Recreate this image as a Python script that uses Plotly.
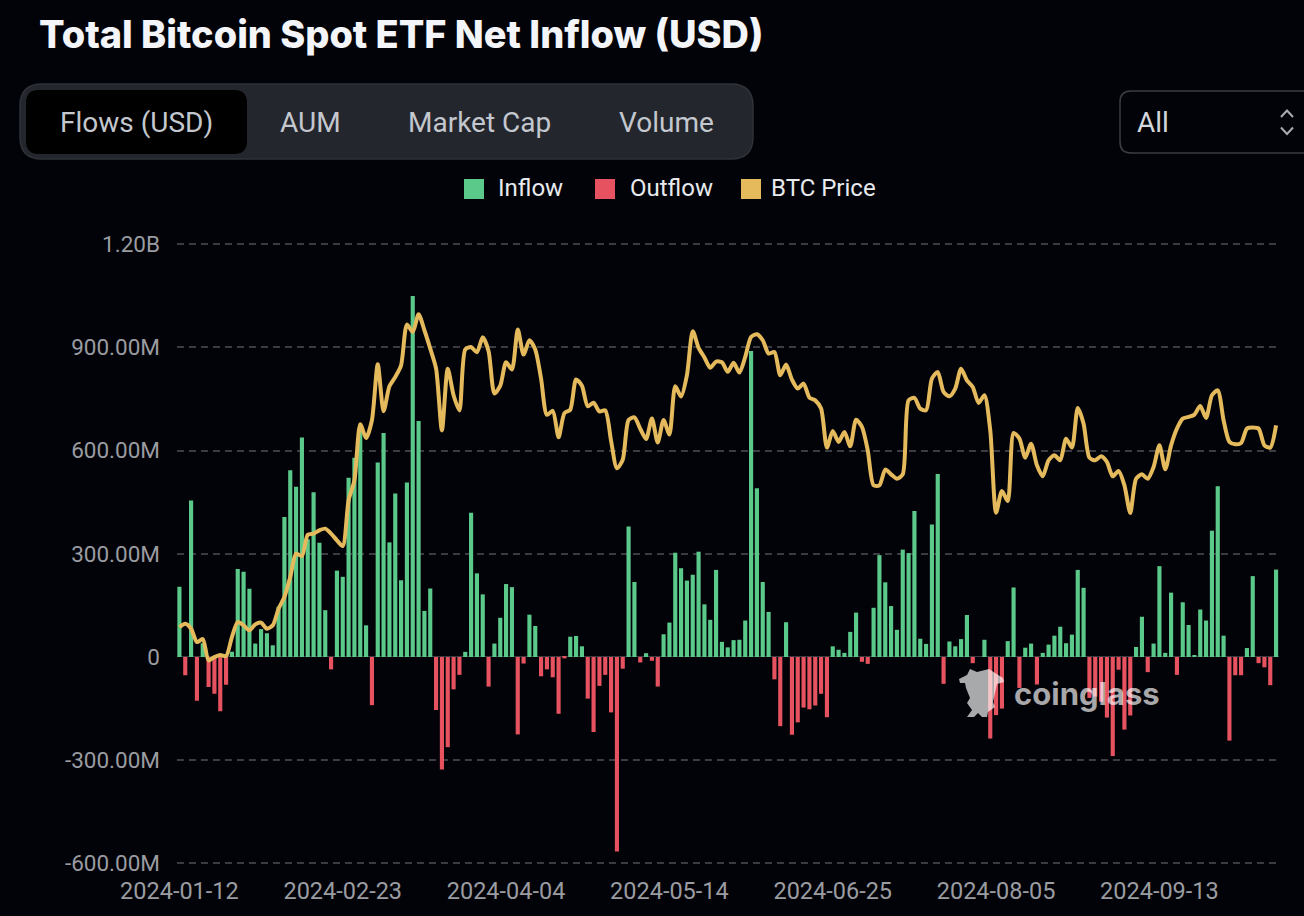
import plotly.graph_objects as go

W, H = 1304, 916

# net flows in millions of USD, one per trading day
net_flow = [
    204, -53, 455, -127, 40, -87, -107, -158, -81, 15,
    256, 248, 198, 39, 81, 69, 34, 146, 407, 543,
    495, 638, 342, 479, 332, 136, -36, 251, 233, 521,
    579, 667, 92, -140, 565, 651, 333, 475, 223, 507,
    1049, 686, 134, 199, -154, -327, -262, -94, -52, 15,
    419, 243, 182, -86, 39, 114, 212, 203, -225, -19,
    123, 90, -56, -36, -59, -165, -4, 59, 61, 31,
    -121, -218, -84, -52, -161, -565, -34, 379, 218, -16,
    11, -11, -86, 66, 100, 303, 258, 222, 239, 306,
    153, 108, 253, 44, 28, 49, 50, 106, 889, 490,
    218, 131, -65, -201, 101, -226, -190, -147, -152, -141,
    -107, -175, 31, 21, 12, 73, 129, -14, -20, 143,
    296, 217, 148, 79, 312, 302, 424, 53, 38, 385,
    532, -78, 45, 31, 52, 122, -18, 0, 50, -237,
    -169, -150, 46, 202, -90, 27, 39, -80, 12, 36,
    62, 88, 40, 65, 253, 201, -119, -115, -130, -176,
    -288, -37, -211, -170, 29, 117, -44, 39, 264, 12,
    187, -52, 159, 93, 4, 138, 106, 367, 496, 62,
    -243, -53, -53, 26, 235, -18, -30, -82, 254,
]

# BTC price in USD, same days
btc_price = [
    42900, 43220, 42740, 41450, 41740, 39670, 39990, 40190, 40090, 41930,
    43380, 43060, 42580, 43160, 43320, 42740, 43060, 44680, 45810, 47750,
    50010, 49780, 51850, 51950, 52270, 52430, 51950, 51300, 50750, 55170,
    57100, 62540, 61200, 62930, 68350, 63800, 66220, 67120, 68250, 72200,
    71490, 73200, 71650, 69870, 67930, 61950, 67930, 65350, 63880, 69790,
    70020, 69520, 70960, 69620, 65520, 66280, 68550, 67850, 71720, 69290,
    70690, 69790, 66950, 63450, 63850, 61280, 63620, 63950, 66880, 66280,
    64280, 64620, 63780, 63880, 60940, 58270, 59110, 62950, 63210, 62110,
    61110, 63110, 60780, 62950, 61550, 66220, 65220, 67290, 71560, 69950,
    69020, 68020, 68620, 68550, 67620, 68490, 67550, 69060, 71000, 71260,
    70680, 69390, 69550, 67290, 68320, 66870, 66000, 66480, 65120, 64860,
    64060, 60280, 61890, 60830, 61800, 60410, 62990, 62280, 60020, 56630,
    56630, 58150, 57690, 57270, 57690, 64860, 65090, 64060, 63900, 66960,
    67610, 65670, 65250, 66000, 67930, 66800, 66160, 64610, 65350, 61960,
    53980, 56080, 55110, 61700, 61150, 59310, 60660, 58570, 57500, 59050,
    59540, 59050, 61150, 60280, 64120, 62600, 59310, 59050, 59440, 58890,
    57500, 58020, 56630, 53950, 57270, 57690, 57270, 58400, 60500, 58180,
    60500, 62120, 63090, 63250, 63480, 64320, 63150, 65350, 65830, 62930,
    60830, 60600, 60730, 62120, 62220, 62120, 60500, 60280, 62440,
]

date_labels = ["2024-01-12", "2024-02-23", "2024-04-04", "2024-05-14",
               "2024-06-25", "2024-08-05", "2024-09-13"]
date_ticks = [0, 28, 56, 84, 112, 140, 168]
flow_ticks = [-600, -300, 0, 300, 600, 900, 1200]
flow_labels = ["-600.00M", "-300.00M", "0", "300.00M", "600.00M", "900.00M", "1.20B"]

tabs = ["Flows (USD)", "AUM", "Market Cap", "Volume"]
tab_centers = [136, 310, 479, 666]

BG = "#020308"
GREEN = "#5bc98a"
RED = "#e6525f"
GOLD = "#e4ba5d"
GREY = "#9a9ca1"

legend_names = ["Inflow", "Outflow", "BTC Price"]
legend_colors = [GREEN, RED, GOLD]
legend_swatch_x = [464, 595, 741]
legend_text_x = [499, 631, 772]


# page pixels to paper coordinates
def px(x):
    return x / W


def py(y):
    return 1 - y / H


def round_rect(x0, y0, x1, y1, r):
    return (
        f"M{px(x0 + r)},{py(y0)} L{px(x1 - r)},{py(y0)} Q{px(x1)},{py(y0)} {px(x1)},{py(y0 + r)} "
        f"L{px(x1)},{py(y1 - r)} Q{px(x1)},{py(y1)} {px(x1 - r)},{py(y1)} "
        f"L{px(x0 + r)},{py(y1)} Q{px(x0)},{py(y1)} {px(x0)},{py(y1 - r)} "
        f"L{px(x0)},{py(y0 + r)} Q{px(x0)},{py(y0)} {px(x0 + r)},{py(y0)} Z"
    )


def polyline(points, close=False):
    path = "M" + " L".join(f"{px(a)},{py(b)}" for a, b in points)
    return path + (" Z" if close else "")


days = list(range(len(net_flow)))
inflow_x = [d for d in days if net_flow[d] >= 0]
outflow_x = [d for d in days if net_flow[d] < 0]

fig = go.Figure()
fig.add_trace(go.Bar(name="Inflow", x=inflow_x, y=[net_flow[d] for d in inflow_x],
                     marker=dict(color=GREEN, line=dict(width=0))))
fig.add_trace(go.Bar(name="Outflow", x=outflow_x, y=[net_flow[d] for d in outflow_x],
                     marker=dict(color=RED, line=dict(width=0))))
fig.add_trace(go.Scatter(name="BTC Price", x=days, y=btc_price, yaxis="y2", mode="lines",
                         line=dict(color=GOLD, width=4, shape="spline", smoothing=0.7)))

shapes = [
    dict(type="path", path=round_rect(20, 84, 753, 159, 22), xref="paper", yref="paper",
         fillcolor="#24262d", line=dict(color="#2f3239", width=1.5), layer="below"),
    dict(type="path", path=round_rect(26, 90, 247, 154, 13), xref="paper", yref="paper",
         fillcolor="#000000", line=dict(width=0), layer="below"),
    dict(type="path", path=round_rect(1120, 91, 1330, 153, 11), xref="paper", yref="paper",
         fillcolor="rgba(0,0,0,0)", line=dict(color="#3b3e45", width=1.5), layer="below"),
    dict(type="path", path=polyline([(1281, 117), (1287, 110.5), (1293, 117)]), xref="paper", yref="paper",
         line=dict(color="#a9acb2", width=2)),
    dict(type="path", path=polyline([(1281, 127.5), (1287, 134), (1293, 127.5)]), xref="paper", yref="paper",
         line=dict(color="#a9acb2", width=2)),
    # coinglass mascot, part of the watermark
    dict(type="path", xref="paper", yref="paper", layer="above", fillcolor="rgba(255,255,255,0.66)",
         line=dict(width=0),
         path=polyline([(970, 669), (977, 672), (989, 669), (995, 673), (1003, 678), (1004, 682),
                        (997, 684), (995, 693), (993, 702), (995, 707), (988, 712), (987, 717),
                        (982, 717), (978, 713), (974, 717), (967, 717), (972, 710), (967, 703),
                        (970, 698), (966, 688), (965, 683), (960, 683), (959, 679), (967, 675)],
                       close=True)),
]

annotations = [
    dict(text="Total Bitcoin Spot ETF Net Inflow (USD)", x=px(36.5), y=py(34), xanchor="left",
         yanchor="middle", font=dict(family="Inter", size=37.9, weight=800, color="#f3f5f9")),
    dict(text="All", x=px(1135), y=py(122), xanchor="left", yanchor="middle",
         font=dict(family="Roboto", size=28, color="#d3d7dd")),
    dict(text="coinglass", x=px(1087), y=py(693), xanchor="center", yanchor="middle",
         font=dict(family="Inter", size=31, weight=700, color="rgba(255,255,255,0.66)")),
]
for label, center in zip(tabs, tab_centers):
    annotations.append(dict(text=label, x=px(center), y=py(122), xanchor="center", yanchor="middle",
                            font=dict(family="Roboto", size=28, color="#c3c7ce")))

# legend drawn by hand, the swatches are 20px squares
for name, color, sx, tx in zip(legend_names, legend_colors, legend_swatch_x, legend_text_x):
    shapes.append(dict(type="rect", xref="paper", yref="paper", x0=px(sx), x1=px(sx + 20), y0=py(199), y1=py(179),
                       fillcolor=color, line=dict(width=0)))
    annotations.append(dict(text=name, x=px(tx - 3), y=py(188), xanchor="left", yanchor="middle",
                            font=dict(family="Roboto", size=24, color="#e8eaee")))

for a in annotations:
    a.update(xref="paper", yref="paper", showarrow=False)

fig.update_layout(
    width=W,
    height=H,
    autosize=False,
    margin=dict(l=0, r=0, t=0, b=0, autoexpand=False),
    paper_bgcolor=BG,
    plot_bgcolor=BG,
    barmode="overlay",
    bargap=0.29,
    showlegend=False,
    xaxis=dict(domain=[px(176.5), px(1279)], range=[-0.5, len(days) - 0.5], tickmode="array",
               tickvals=date_ticks, ticktext=date_labels, showgrid=False, zeroline=False,
               ticks="outside", ticklen=5, tickcolor="rgba(0,0,0,0)",
               tickfont=dict(family="Roboto", size=23.5, color=GREY)),
    # range goes slightly past the end ticks or plotly drops their gridlines
    yaxis=dict(domain=[py(864.5), py(243)], range=[-603, 1203], tickmode="array",
               tickvals=flow_ticks, ticktext=flow_labels, showgrid=True, griddash="7px,5px",
               gridcolor="#3a3c41", gridwidth=1.5, zeroline=True, zerolinecolor="#3a3c41", zerolinewidth=1,
               ticks="outside", ticklen=11, tickcolor="rgba(0,0,0,0)",
               tickfont=dict(family="Roboto", size=22.5, color=GREY)),
    yaxis2=dict(domain=[py(864.5), py(243)], range=[19900, 80100], overlaying="y", side="right",
                visible=False),
    shapes=shapes,
    annotations=annotations,
)

fig.write_html("out.html", config=dict(displayModeBar=False),
               post_script="document.body.style.margin='0';document.body.style.background='" + BG + "';document.body.style.overflow='hidden';")
